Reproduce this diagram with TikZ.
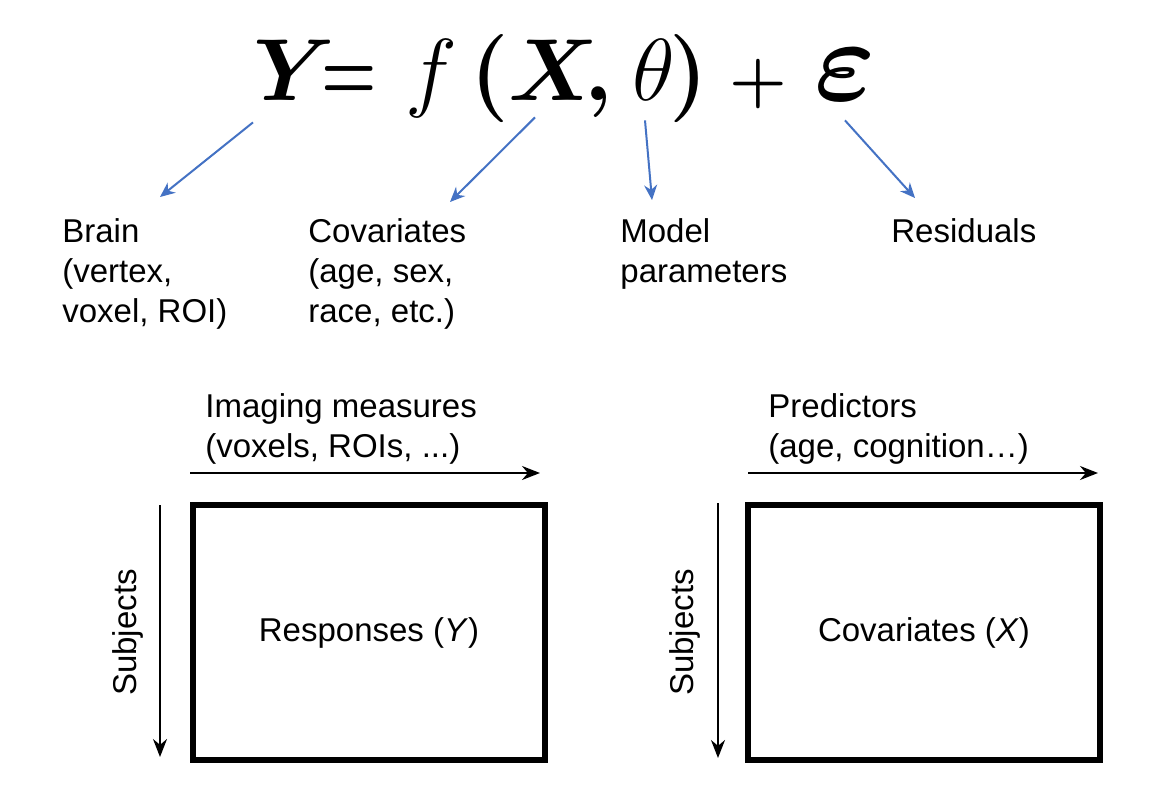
\RequirePackage{fix-cm}
\documentclass[tikz,border=0pt]{standalone}
\usepackage{amsmath}
\usepackage{amssymb}
\usepackage{bm}
\usepackage{graphicx}
\usepackage[no-math]{fontspec}
\setmainfont{Liberation Sans}
\usetikzlibrary{arrows.meta}

\definecolor{linkblue}{HTML}{4472C4}

\tikzset{
  sym/.style={anchor=base west, inner sep=0pt, font=\fontsize{44}{50}\selectfont},
  lbl/.style={anchor=north west, inner sep=0pt, align=left, font=\fontsize{16.5}{20}\selectfont},
  link/.style={draw=linkblue, line width=1pt, -{Stealth[length=7.5pt,width=6.5pt]}},
  axis/.style={line width=0.9pt, -{Stealth[length=9pt,width=7pt]}},
  matbox/.style={draw, line width=3pt, minimum width=176pt, minimum height=127.5pt,
    inner sep=0pt, font=\fontsize{16.5}{20}\selectfont}
}

\begin{document}
\begin{tikzpicture}[x=0.5pt,y=-0.5pt]
\useasboundingbox[fill=white] (0,0) rectangle (1162,793);

% the model
\node[sym] (Y) at (253,100) {$\boldsymbol{Y}$};
\node[sym] (eq) at (321,100) {\scalebox{0.72}[1]{$\boldsymbol{=}$}};
\node[sym] (f) at (405,100) {$f$};
\node[sym] (lp) at (470,100) {$\boldsymbol{(}$};
\node[sym] (X) at (508,100) {$\boldsymbol{X}$};
\node[sym] (comma) at (584,100) {$\boldsymbol{,}$};
\node[sym] (theta) at (632,100) {$\theta$};
\node[sym] (rp) at (669,100) {$\boldsymbol{)}$};
\node[sym] (plus) at (729,100) {\scalebox{0.75}{$\boldsymbol{+}$}};
\node[sym, font=\fontsize{58}{60}\selectfont] (eps) at (814,100) {$\boldsymbol{\varepsilon}$};

% what each term stands for
\node[lbl] (brain) at (62,218) {Brain\\(vertex,\\voxel, ROI)};
\node[lbl] (covs) at (308,218) {Covariates\\(age, sex,\\race, etc.)};
\node[lbl] (model) at (620,218) {Model\\parameters};
\node[lbl] (resid) at (891,218) {Residuals};

\draw[link] ([shift={(0,22)}]Y.south west) -- ([shift={(98,-21)}]brain.north west);
\draw[link] ([shift={(27,17)}]X.south west) -- ([shift={(142,-16)}]covs.north west);
\draw[link] ([shift={(13,20)}]theta.south west) -- ([shift={(32,-18)}]model.north west);
\draw[link] ([shift={(31,20)}]eps.south west) -- ([shift={(24,-20)}]resid.north west);

% data matrices
\node[matbox] (resp) at (369,632.5) {Responses (\textit{Y})};
\node[matbox] (covmat) at (924,632.5) {Covariates (\textit{X})};

\node[lbl] (imaging) at (205,393) {Imaging measures\\(voxels, ROIs, ...)};
\node[lbl] (predict) at (768,393) {Predictors\\(age, cognition…)};

\draw[axis] ([shift={(0,-29)}]resp.north west) -- ([shift={(-8,-29)}]resp.north east);
\draw[axis] ([shift={(-30,3)}]resp.north west) -- ([shift={(-30,-6)}]resp.south west);
\draw[axis] ([shift={(3,-29)}]covmat.north west) -- ([shift={(-5,-29)}]covmat.north east);
\draw[axis] ([shift={(-27,1)}]covmat.north west) -- ([shift={(-27,-5)}]covmat.south west);

\node[rotate=90, font=\fontsize{16.5}{20}\selectfont] (subjL) at ([shift={(-62,0)}]resp.west) {Subjects};
\node[rotate=90, font=\fontsize{16.5}{20}\selectfont] (subjR) at ([shift={(-60,0)}]covmat.west) {Subjects};
\end{tikzpicture}
\end{document}
